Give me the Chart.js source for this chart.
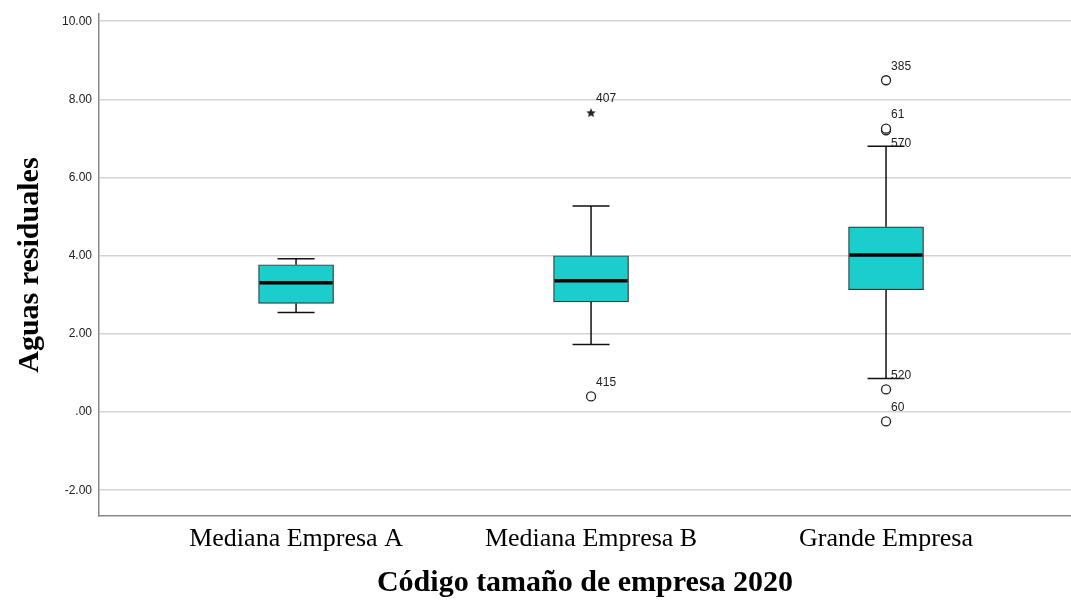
<!DOCTYPE html>
<html lang="es">
<head>
    <meta charset="UTF-8">
    <script src="https://cdn.jsdelivr.net/npm/chart.js"></script>
    <style>
        html, body { margin: 0; padding: 0; background: #fff; overflow: hidden; }
        #wrap { position: relative; width: 1071px; height: 600px; }
        canvas { display: block; }
    </style>
    <title>Aguas residuales</title>
</head>
<body>
<div id="wrap"><canvas id="boxChart"></canvas></div>
<script>
    // datos
    const categories = ['Mediana Empresa A', 'Mediana Empresa B', 'Grande Empresa'];
    const whiskerLow = [2.55, 1.73, 0.86];
    const q1 = [2.78, 2.82, 3.13];
    const median = [3.31, 3.36, 4.02];
    const q3 = [3.77, 4.00, 4.74];
    const whiskerHigh = [3.92, 5.27, 6.80];

    // atipicos (circulo) y extremos (estrella)
    const outlierGroup = [2, 3, 3, 3, 3, 3];
    const outlierValue = [0.40, 8.49, 7.21, 7.25, 0.58, -0.24];
    const extremeGroup = [2];
    const extremeValue = [7.65];

    // etiquetas de casos
    const labelGroup = [2, 2, 3, 3, 3, 3, 3];
    const labelValue = [7.65, 0.40, 8.49, 7.25, 6.52, 0.58, -0.24];
    const labelText = ['407', '415', '385', '61', '570', '520', '60'];

    const yTicks = [-2, 0, 2, 4, 6, 8, 10];

    const boxColor = '#1ccdcd';
    const serif = '"Liberation Serif", "Times New Roman", serif';

    // estrella rellena para los extremos
    function makeStar(r) {
        const c = document.createElement('canvas');
        c.width = c.height = r * 2 + 2;
        const g = c.getContext('2d');
        g.fillStyle = '#222';
        g.beginPath();
        for (let i = 0; i < 10; i++) {
            const rad = i % 2 === 0 ? r : r * 0.45;
            const a = -Math.PI / 2 + i * Math.PI / 5;
            const px = r + 1 + rad * Math.cos(a);
            const py = r + 1 + rad * Math.sin(a);
            i === 0 ? g.moveTo(px, py) : g.lineTo(px, py);
        }
        g.closePath();
        g.fill();
        return c;
    }

    const boxPlugin = {
        id: 'boxExtras',
        afterDatasetsDraw(chart) {
            const ctx = chart.ctx;
            const xs = chart.scales.x, ys = chart.scales.y;
            const half = 37.5, cap = 18.5;
            ctx.save();
            categories.forEach((c, i) => {
                const cx = xs.getPixelForValue(i + 1);
                const yLo = ys.getPixelForValue(whiskerLow[i]);
                const yHi = ys.getPixelForValue(whiskerHigh[i]);
                const yQ1 = ys.getPixelForValue(q1[i]);
                const yQ3 = ys.getPixelForValue(q3[i]);
                const yMed = ys.getPixelForValue(median[i]);
                ctx.strokeStyle = '#111';
                ctx.lineWidth = 1.5;
                ctx.beginPath();
                ctx.moveTo(cx, yQ3); ctx.lineTo(cx, yHi);
                ctx.moveTo(cx - cap, yHi); ctx.lineTo(cx + cap, yHi);
                ctx.moveTo(cx, yQ1); ctx.lineTo(cx, yLo);
                ctx.moveTo(cx - cap, yLo); ctx.lineTo(cx + cap, yLo);
                ctx.stroke();
                ctx.lineWidth = 3.5;
                ctx.strokeStyle = '#000';
                ctx.beginPath();
                ctx.moveTo(cx - half + 1, yMed); ctx.lineTo(cx + half - 1, yMed);
                ctx.stroke();
            });
            ctx.fillStyle = '#222';
            ctx.font = '12px "Liberation Sans", Arial, sans-serif';
            ctx.textAlign = 'left';
            ctx.textBaseline = 'middle';
            labelText.forEach((t, i) => {
                const px = xs.getPixelForValue(labelGroup[i]);
                const py = ys.getPixelForValue(labelValue[i]);
                ctx.fillText(t, px + 5, py - 14);
            });
            ctx.restore();
        }
    };

    const ctx = document.getElementById('boxChart').getContext('2d');
    new Chart(ctx, {
        type: 'bar',
        data: {
            datasets: [
                {
                    type: 'bar',
                    data: categories.map((c, i) => ({ x: i + 1, y: [q1[i], q3[i]] })),
                    backgroundColor: boxColor,
                    borderColor: '#333',
                    borderWidth: 1.2,
                    borderSkipped: false,
                    barThickness: 75,
                    order: 2
                },
                {
                    type: 'scatter',
                    data: outlierGroup.map((g, i) => ({ x: g, y: outlierValue[i] })),
                    pointStyle: 'circle',
                    pointRadius: 4.5,
                    pointBackgroundColor: '#fff',
                    pointBorderColor: '#222',
                    pointBorderWidth: 1.3,
                    order: 1
                },
                {
                    type: 'scatter',
                    data: extremeGroup.map((g, i) => ({ x: g, y: extremeValue[i] })),
                    pointStyle: makeStar(5),
                    pointRadius: 5,
                    order: 1
                }
            ]
        },
        options: {
            responsive: true,
            maintainAspectRatio: false,
            animation: false,
            events: [],
            layout: { autoPadding: false, padding: { top: 13, right: 0, bottom: 0, left: 0 } },
            plugins: {
                legend: { display: false },
                tooltip: { enabled: false }
            },
            scales: {
                x: {
                    type: 'linear',
                    offset: false,
                    min: 0.332,
                    max: 3.627,
                    afterBuildTicks: s => { s.ticks = categories.map((c, i) => ({ value: i + 1 })); },
                    afterFit: s => { s.height = 84; s.paddingLeft = 0; s.paddingRight = 0; },
                    grid: { display: false, drawTicks: false },
                    border: { display: true, color: '#888', width: 1.5 },
                    ticks: {
                        padding: 8,
                        maxRotation: 0,
                        color: '#000',
                        font: { family: serif, size: 26 },
                        callback: v => categories[v - 1] || ''
                    },
                    title: {
                        display: true,
                        text: 'Código tamaño de empresa 2020',
                        color: '#000',
                        font: { family: serif, size: 30, weight: 'bold', lineHeight: 1 },
                        padding: { top: 0, bottom: 2 }
                    }
                },
                y: {
                    min: -2.66,
                    max: 10.18,
                    afterBuildTicks: s => { s.ticks = yTicks.map(v => ({ value: v })); },
                    afterFit: s => { s.width = 99; },
                    grid: { color: '#d4d4d4', lineWidth: 1.5, drawTicks: false },
                    border: { display: true, color: '#888', width: 1.5 },
                    ticks: {
                        padding: 7,
                        color: '#222',
                        font: { family: '"Liberation Sans", Arial, sans-serif', size: 12 },
                        callback: v => v === 0 ? '.00' : v.toFixed(2)
                    },
                    title: {
                        display: true,
                        text: 'Aguas residuales',
                        color: '#000',
                        font: { family: serif, size: 30, weight: 'bold', lineHeight: 1 },
                        padding: { top: 15, bottom: 0 }
                    }
                }
            }
        },
        plugins: [boxPlugin]
    });
</script>
</body>
</html>
